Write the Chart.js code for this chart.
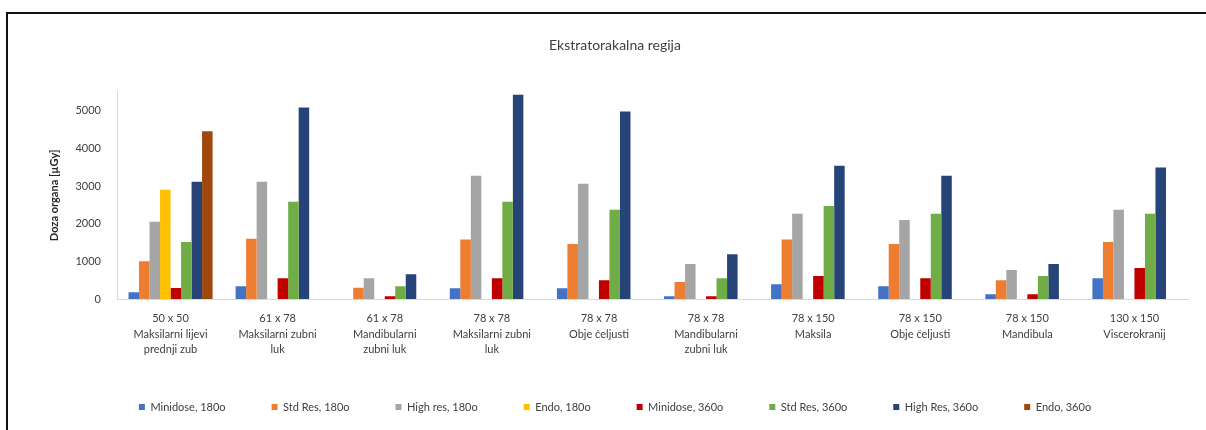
<!DOCTYPE html>
<html>
<head>
<meta charset="utf-8">
<title>Ekstratorakalna regija</title>
<script src="https://cdn.jsdelivr.net/npm/chart.js@4"></script>
<style>
  html, body { margin: 0; padding: 0; background: #fff; }
  #wrap { width: 1206px; height: 430px; }
</style>
</head>
<body>
<div id="wrap"><canvas id="doza" width="1206" height="430"></canvas></div>
<script>
const kategorije = [
    ['50 x 50', 'Maksilarni lijevi', 'prednji zub'],
    ['61 x 78', 'Maksilarni zubni', 'luk'],
    ['61 x 78', 'Mandibularni', 'zubni luk'],
    ['78 x 78', 'Maksilarni zubni', 'luk'],
    ['78 x 78', 'Obje čeljusti'],
    ['78 x 78', 'Mandibularni', 'zubni luk'],
    ['78 x 150', 'Maksila'],
    ['78 x 150', 'Obje čeljusti'],
    ['78 x 150', 'Mandibula'],
    ['130 x 150', 'Viscerokranij']
];

// doze u µGy
const minidose180 = [180, 340, null, 285, 285, 70, 390, 340, 125, 550];
const stdRes180   = [1000, 1600, 300, 1580, 1460, 450, 1580, 1460, 500, 1510];
const highRes180  = [2050, 3110, 550, 3270, 3060, 930, 2260, 2100, 770, 2370];
const endo180     = [2900, null, null, null, null, null, null, null, null, null];
const minidose360 = [290, 550, 70, 550, 500, 70, 610, 550, 125, 820];
const stdRes360   = [1510, 2580, 340, 2580, 2370, 550, 2470, 2260, 610, 2260];
const highRes360  = [3110, 5080, 660, 5420, 4980, 1190, 3540, 3270, 930, 3490];
const endo360     = [4450, null, null, null, null, null, null, null, null, null];

const yTicks = [0, 1000, 2000, 3000, 4000, 5000];

const serije = [
    { label: 'Minidose, 180o', data: minidose180, color: '#4472C4' },
    { label: 'Std Res, 180o', data: stdRes180, color: '#ED7D31' },
    { label: 'High res, 180o', data: highRes180, color: '#A5A5A5' },
    { label: 'Endo, 180o', data: endo180, color: '#FFC000' },
    { label: 'Minidose, 360o', data: minidose360, color: '#C00000' },
    { label: 'Std Res, 360o', data: stdRes360, color: '#70AD47' },
    { label: 'High Res, 360o', data: highRes360, color: '#264478' },
    { label: 'Endo, 360o', data: endo360, color: '#9E480E' }
];

// okvir oko grafa (gornja i lijeva linija)
const okvir = {
    id: 'okvir',
    afterDraw(chart) {
        const c = chart.ctx;
        c.save();
        c.strokeStyle = '#111';
        c.lineWidth = 2;
        c.beginPath();
        c.moveTo(1206, 13);
        c.lineTo(7, 13);
        c.lineTo(7, 430);
        c.stroke();
        c.restore();
    }
};

const font = "Lato, 'Liberation Sans', sans-serif";

new Chart(document.getElementById('doza'), {
    type: 'bar',
    data: {
        labels: kategorije,
        datasets: serije.map(s => ({
            label: s.label,
            data: s.data,
            backgroundColor: s.color,
            borderWidth: 0,
            barPercentage: 1,
            categoryPercentage: 0.785
        }))
    },
    options: {
        responsive: false,
        animation: false,
        layout: { padding: { left: 42, right: 18, top: 0, bottom: 7.5 } },
        plugins: {
            title: {
                display: true,
                text: 'Ekstratorakalna regija',
                color: '#404040',
                font: { family: font, size: 14, weight: 'normal' },
                padding: { top: 37, bottom: 38 }
            },
            legend: {
                position: 'bottom',
                labels: {
                    boxWidth: 6,
                    boxHeight: 6,
                    padding: 46,
                    color: '#404040',
                    font: { family: font, size: 11 }
                }
            },
            tooltip: { enabled: false }
        },
        scales: {
            x: {
                grid: { display: false, drawTicks: false },
                border: { color: '#D9D9D9', width: 1 },
                ticks: {
                    autoSkip: false,
                    maxRotation: 0,
                    padding: 12,
                    color: '#404040',
                    font: { family: font, size: 11, lineHeight: 1.4 }
                },
                afterFit(scale) { scale.height = 56.5; }
            },
            y: {
                min: 0,
                max: 5500,
                grid: { display: false, drawTicks: false },
                border: { color: '#D9D9D9', width: 1 },
                afterBuildTicks(scale) {
                    scale.ticks = yTicks.map(v => ({ value: v }));
                },
                ticks: {
                    padding: 16,
                    color: '#404040',
                    font: { family: font, size: 11 },
                    callback: v => String(v)
                },
                title: {
                    display: true,
                    text: 'Doza organa [µGy]',
                    color: '#262626',
                    font: { family: font, size: 11, weight: 'bold' },
                    padding: { top: 6, bottom: 0 }
                },
                afterFit(scale) { scale.width = 75; }
            }
        }
    },
    plugins: [okvir]
});
</script>
</body>
</html>
